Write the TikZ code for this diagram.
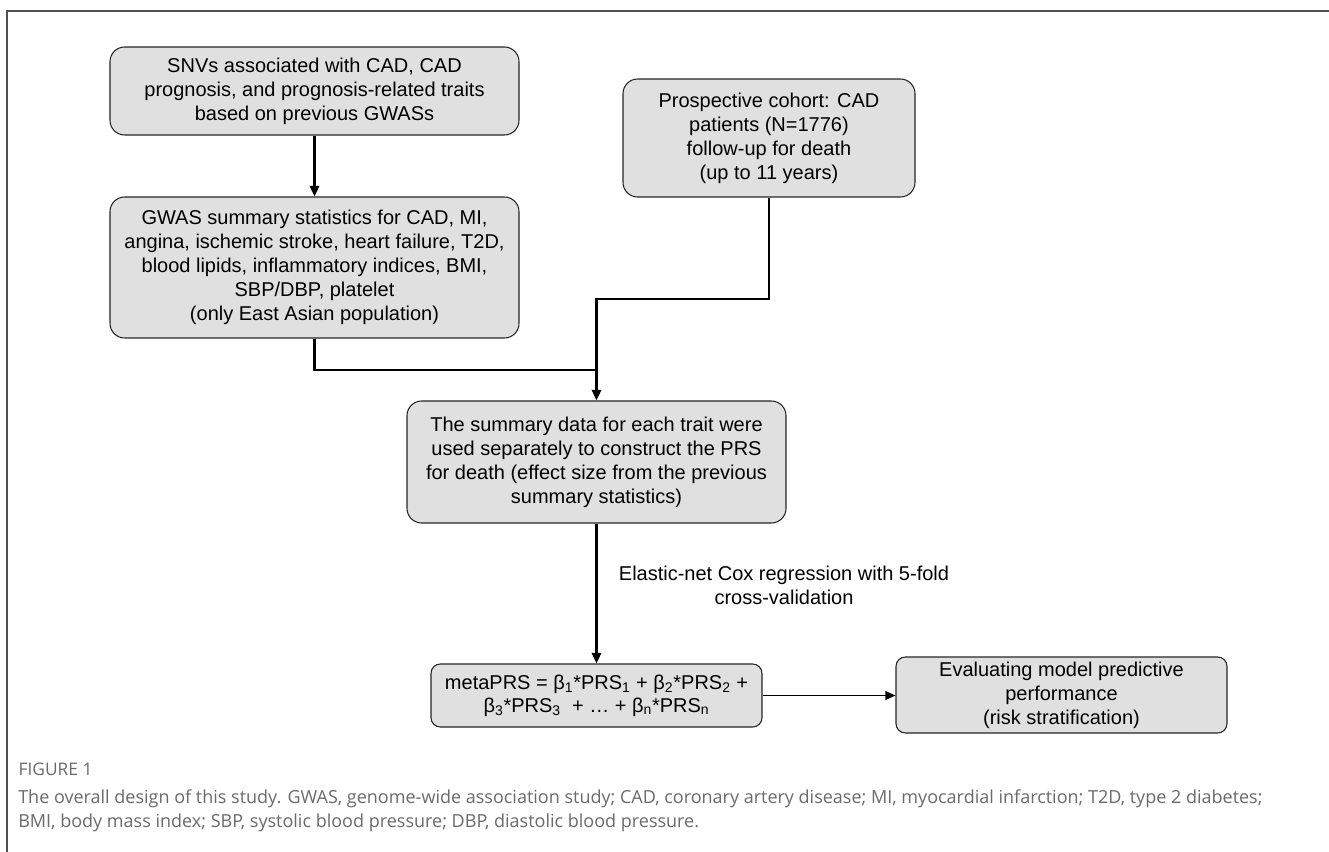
\documentclass[tikz,border=0pt]{standalone}
\usepackage{fontspec}
\setmainfont{Liberation Sans}
\newfontfamily\capfont{Open Sans}
\usepackage{tikz}
\usetikzlibrary{arrows.meta}
\definecolor{boxgray}{HTML}{E0E0E0}
\definecolor{capgray}{HTML}{6A6A6A}
\definecolor{framegray}{HTML}{505050}

\begin{document}
\begin{tikzpicture}[
            x=0.75pt, y=-0.75pt,
            box/.style = {draw=black!85, line width=0.8pt, fill=boxgray, rounded corners=11pt,
                          align=center, inner sep=0pt, font=\fontsize{15}{18}\selectfont},
            conn/.style = {line width=1.8pt, -{Triangle[length=8pt, width=7pt]}},
            link/.style = {line width=1.8pt}
                        ]
            \useasboundingbox (0,0) rectangle (1329,852);
            % frame
            \draw[framegray, line width=0.8pt] (1329,11) -- (7,11) -- (7,852);
            % boxes
            \node[box, minimum width=306.75pt, minimum height=66pt] (snv) at (314.5,91)
                {SNVs associated with CAD, CAD\\prognosis, and prognosis-related traits\\based on previous GWASs};
            \node[box, minimum width=306.75pt, minimum height=105.75pt] (gwas) at (314.5,267.5)
                {GWAS summary statistics for CAD, MI,\\angina, ischemic stroke, heart failure, T2D,\\blood lipids, inflammatory indices, BMI,\\SBP/DBP, platelet\\(only East Asian population)};
            \node[box, minimum width=219pt, minimum height=88.5pt] (cohort) at (769,138)
                {Prospective cohort: CAD\\patients (N=1776)\\follow-up for death\\(up to 11 years)};
            \node[box, minimum width=284.25pt, minimum height=91.5pt] (prs) at (596.5,462)
                {The summary data for each trait were\\used separately to construct the PRS\\for death (effect size from the previous\\summary statistics)};
            \node[box, rounded corners=7pt, minimum width=248.25pt, minimum height=47.25pt] (meta) at (596.5,695.5)
                {metaPRS = β\textsubscript{1}*PRS\textsubscript{1} + β\textsubscript{2}*PRS\textsubscript{2} +\\[-1pt]
                 β\textsubscript{3}*PRS\textsubscript{3}\ \ + … + β\textsubscript{n}*PRS\textsubscript{n}};
            \node[box, rounded corners=7pt, minimum width=248.25pt, minimum height=57pt] (eval) at (1061.5,695)
                {Evaluating model predictive\\performance\\(risk stratification)};
            % label
            \node[align=center, inner sep=0pt, font=\fontsize{15}{18}\selectfont] (enet) at (784,585)
                {Elastic-net Cox regression with 5-fold\\cross-validation};
            % connectors
            \coordinate (join) at (596.5,370);
            \coordinate (cbend) at (596.5,299);
            \draw[conn] (snv) -- (gwas);
            \draw[link] (gwas.south) |- (join);
            \draw[conn] (cohort.south) |- (cbend) -- (prs.north);
            \draw[conn] (prs) -- (meta);
            \draw[line width=1.2pt, -{Triangle[length=7.5pt, width=6.5pt]}] (meta.east) -- (eval.west |- meta.east);
            % caption
            \node[anchor=west, capgray, font=\capfont\fontsize{13}{15}\selectfont] (fig) at (14,769) {FIGURE 1};
            \node[anchor=north west, align=left, capgray, inner sep=0pt, font=\capfont\fontsize{13.5}{18}\selectfont] (cap) at (18,789)
                {The overall design of this study. GWAS, genome-wide association study; CAD, coronary artery disease; MI, myocardial infarction; T2D, type 2 diabetes;\\
                 BMI, body mass index; SBP, systolic blood pressure; DBP, diastolic blood pressure.};
    \end{tikzpicture}
\end{document}
